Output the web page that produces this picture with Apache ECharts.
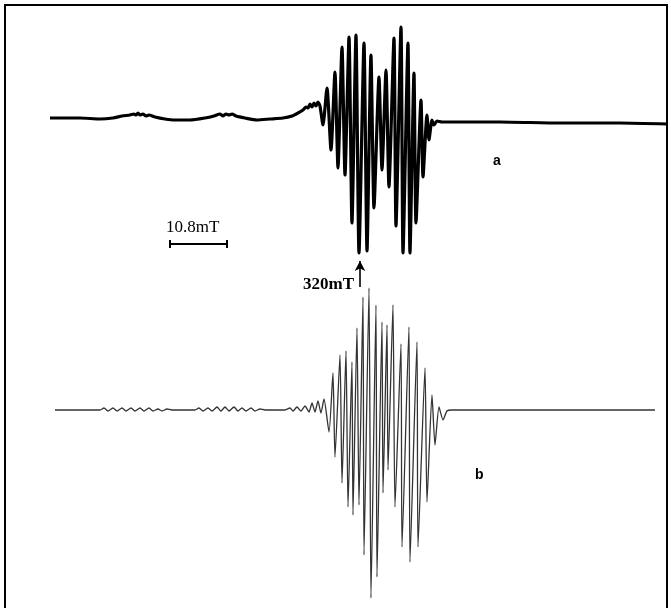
<!DOCTYPE html>
<html>
<head>
<meta charset="utf-8">
<script src="https://cdn.jsdelivr.net/npm/echarts@6/dist/echarts.min.js"></script>
<style>
  html, body { margin: 0; padding: 0; background: #fff; }
  #chart { width: 671px; height: 608px; }
</style>
</head>
<body>
<div id="chart"></div>
<script>
// 磁场 (mT) 与信号幅度 (任意单位)
// 谱线 a : 实验谱
var fieldA = [
  261.26, 266.95, 270.74, 273.20, 274.91, 276.42, 277.18, 277.56, 277.94, 278.32,
  278.88, 279.45, 280.02, 281.16, 283.05, 284.95, 287.79, 290.63, 292.34, 293.47,
  294.04, 294.61, 295.18, 295.75, 296.51, 298.21, 300.48, 302.95, 305.41, 307.12,
  308.25, 309.20, 309.77, 310.15, 310.53, 310.91, 311.28, 311.66, 312.04, 312.42,
  312.99, 313.75, 314.51, 315.26, 315.83, 316.59, 317.16, 317.92, 318.48, 319.24,
  319.81, 320.76, 321.33, 322.08, 322.65, 323.60, 324.17, 324.93, 325.49, 326.44,
  326.82, 327.77, 328.15, 329.09, 329.47, 330.23, 330.61, 331.56, 331.94, 332.69,
  333.07, 333.64, 334.02, 334.59, 335.54, 346.53, 357.89, 369.26, 378.36
];
var signalA = [
  0, 0, -1, 0, 2, 3, 4, 3, 5, 3,
  4, 2, 3, 1, -1, -2, -2, 0, 2, 4,
  2, 4, 3, 4, 2, 0, -2, -1, 0, 2,
  5, 8, 11, 10, 14, 11, 15, 12, 16, 12,
  -7, 30, -32, 46, -50, 71, -57, 81, -105, 83,
  -135, 75, -133, 63, -90, 41, -52, 48, -69, 80,
  -108, 91, -135, 75, -135, 45, -105, 18, -59, 3,
  -22, -2, -7, -3, -4, -4, -5, -5, -6
];

// 谱线 b : 模拟谱
var fieldB = [
  262.21, 270.74, 271.49, 272.25, 273.20, 273.96, 274.91, 275.66, 276.61, 277.37,
  278.32, 279.07, 280.02, 280.78, 281.73, 282.48, 283.43, 284.38, 288.74, 289.49,
  290.25, 291.20, 291.96, 292.91, 293.66, 294.42, 295.18, 296.13, 296.88, 297.64,
  298.40, 299.35, 300.11, 301.05, 302.00, 305.79, 306.74, 307.31, 308.06, 308.82,
  309.58, 310.34, 310.91, 311.47, 312.04, 312.61, 313.18, 314.13, 314.88, 315.26,
  316.21, 316.59, 317.35, 317.73, 318.48, 318.67, 319.43, 319.81, 320.57, 320.76,
  321.71, 322.08, 323.03, 323.22, 324.17, 324.36, 325.12, 325.31, 326.25, 326.63,
  327.77, 327.96, 329.28, 329.47, 330.80, 330.99, 332.32, 332.69, 333.64, 334.21,
  334.97, 335.73, 336.48, 337.43, 375.89
];
var signalB = [
  0, 0, 2, -1, 2, -1, 2, -1, 2, -1,
  2, -1, 2, -1, 1, -1, 1, 0, 0, 2,
  -1, 2, -1, 3, -1, 3, -1, 3, -1, 2,
  -1, 2, -1, 1, 0, 0, 2, -1, 3, -1,
  4, -2, 7, -2, 9, -3, 11, -22, 37, -47,
  55, -73, 59, -97, 48, -105, 82, -95, 113, -145,
  122, -188, 105, -167, 88, -83, 85, -60, 105, -97,
  66, -137, 83, -152, 68, -137, 42, -92, 15, -35,
  3, -10, -1, 0, 0
];

// 标注
var scaleBar = [284.0, 294.8];   // 10.8 mT
var scaleBarLevel = -126;
var markField = 320;             // 320mT 箭头

function pairs(xs, ys) {
  var out = [];
  for (var i = 0; i < xs.length; i++) out.push([xs[i], ys[i]]);
  return out;
}

var chart = echarts.init(document.getElementById("chart"));

var xBase = { type: "value", min: 251.79, max: 378.93, show: false };

chart.setOption({
  animation: false,
  backgroundColor: "#fff",
  grid: [
    { left: 0, right: 0, top: 0, bottom: 0 },
    { left: 0, right: 0, top: 0, bottom: 0 }
  ],
  xAxis: [
    Object.assign({ gridIndex: 0 }, xBase),
    Object.assign({ gridIndex: 1 }, xBase)
  ],
  yAxis: [
    { type: "value", gridIndex: 0, min: -490, max: 118, show: false },
    { type: "value", gridIndex: 1, min: -198, max: 410, show: false }
  ],
  series: [
    {
      name: "a",
      type: "line",
      xAxisIndex: 0,
      yAxisIndex: 0,
      data: pairs(fieldA, signalA),
      showSymbol: false,
      smooth: 0.2,
      lineStyle: { color: "#000", width: 3.2 },
      markLine: {
        silent: true,
        symbol: ["none", "arrow"],
        symbolSize: [8, 10],
        label: { show: false },
        lineStyle: { color: "#000", width: 1.6, type: "solid" },
        data: [[{ coord: [markField, -169] }, { coord: [markField, -143] }]]
      }
    },
    {
      name: "scale",
      type: "line",
      xAxisIndex: 0,
      yAxisIndex: 0,
      data: [[scaleBar[0], scaleBarLevel], [scaleBar[1], scaleBarLevel]],
      symbol: "rect",
      symbolSize: [2, 8],
      itemStyle: { color: "#000" },
      lineStyle: { color: "#000", width: 1.8 }
    },
    {
      name: "b",
      type: "line",
      xAxisIndex: 1,
      yAxisIndex: 1,
      data: pairs(fieldB, signalB),
      showSymbol: false,
      smooth: 0.2,
      lineStyle: { color: "#333", width: 1.3 }
    }
  ],
  graphic: [
    {
      type: "rect",
      shape: { x: 5, y: 5, width: 662, height: 612 },
      style: { fill: "none", stroke: "#000", lineWidth: 2 }
    },
    {
      type: "text", x: 166, y: 219,
      style: { text: "10.8mT", font: "17px 'Liberation Serif', serif", fill: "#000" }
    },
    {
      type: "text", x: 303, y: 276,
      style: { text: "320mT", font: "bold 17px 'Liberation Serif', serif", fill: "#000" }
    },
    {
      type: "text", x: 493, y: 154,
      style: { text: "a", font: "bold 14px 'Liberation Sans', sans-serif", fill: "#000" }
    },
    {
      type: "text", x: 475, y: 468,
      style: { text: "b", font: "bold 14px 'Liberation Sans', sans-serif", fill: "#000" }
    }
  ]
});
</script>
</body>
</html>
